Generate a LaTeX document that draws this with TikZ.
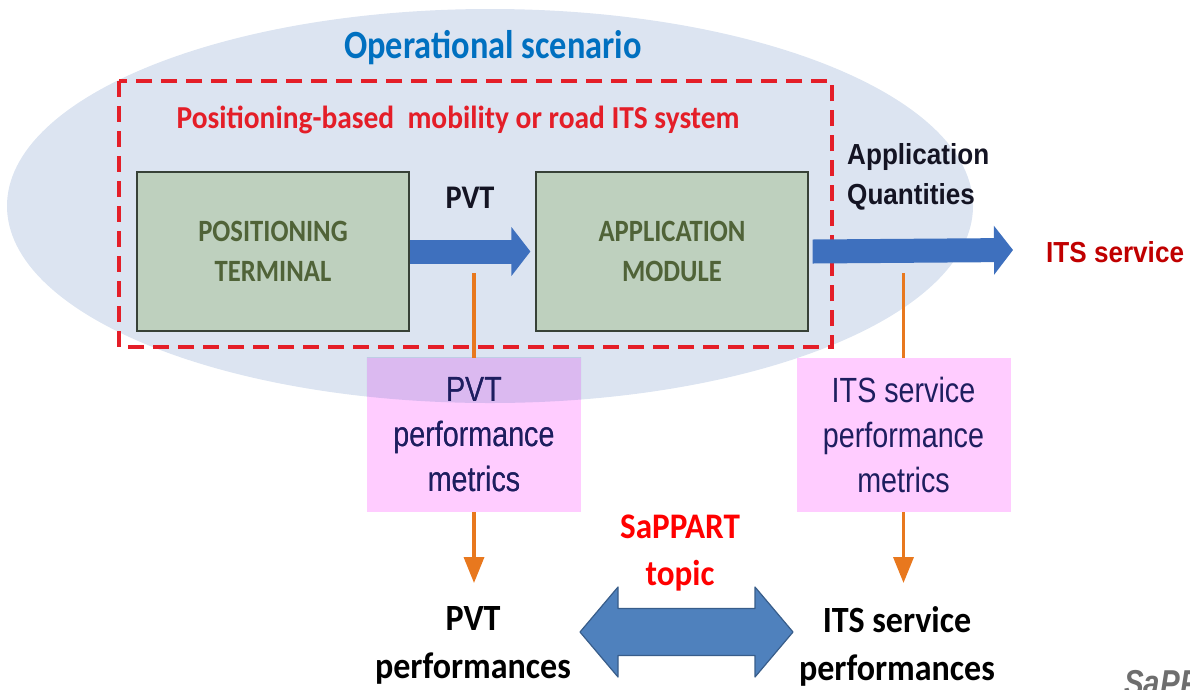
\documentclass[tikz,border=0pt]{standalone}
\usepackage{fontspec}
\usetikzlibrary{arrows.meta,calc}
\newfontfamily\calb[FakeStretch=0.86]{Carlito}
\newfontfamily\calw[FakeStretch=0.92]{Carlito}
\newfontfamily\arin[FakeStretch=0.82]{Liberation Sans}
\newfontfamily\ariw[FakeStretch=0.9]{Liberation Sans}
\definecolor{ellfill}{RGB}{220,228,241}
\definecolor{elltint}{RGB}{37,87,162}
\definecolor{dashred}{RGB}{228,30,40}
\definecolor{opblue}{RGB}{0,112,192}
\definecolor{boxgreen}{RGB}{190,208,190}
\definecolor{boxedge}{RGB}{55,65,55}
\definecolor{boxtext}{RGB}{80,99,56}
\definecolor{pinkbox}{RGB}{255,204,255}
\definecolor{navytext}{RGB}{30,30,95}
\definecolor{orangeln}{RGB}{232,120,30}
\definecolor{arrblue}{RGB}{62,112,190}
\definecolor{darkred}{RGB}{192,0,0}
\definecolor{brightred}{RGB}{255,0,0}
\definecolor{dblfill}{RGB}{79,129,189}
\definecolor{dbledge}{RGB}{56,93,138}
\definecolor{logogray}{RGB}{110,110,110}
\definecolor{nearblack}{RGB}{20,20,35}
\tikzset{
  gbox/.style={draw=boxedge, line width=1.2pt, fill=boxgreen, minimum width=272pt, minimum height=159pt,
    inner sep=0pt, align=center, text=boxtext, font=\calb\bfseries\fontsize{31}{40}\selectfont},
  pbox/.style={fill=pinkbox, minimum width=214pt, minimum height=154pt, inner sep=0pt, align=center,
    text=navytext, font=\arin\fontsize{35}{45}\selectfont},
  lbl/.style={inner sep=0pt, align=center},
  bluearrow/.style={draw=arrblue, line width=24pt, -{Triangle[length=19pt,width=48pt]}},
  orline/.style={draw=orangeln, line width=3.5pt},
  orarrow/.style={orline, -{Triangle[length=26pt,width=20pt]}},
  dblarrow/.style={fill=dblfill, draw=dbledge, line width=1.2pt, line join=round},
}
\begin{document}
\begin{tikzpicture}[x=1pt,y=-1pt]
\useasboundingbox (0,0) rectangle (1190,689);
% operational scenario ellipse
\fill[ellfill] (490,206) ellipse [x radius=483, y radius=197];
\node[lbl, text=opblue, font=\calb\bfseries\fontsize{40}{48}\selectfont] (optitle) at (493,48) {Operational scenario};
% system dashed frame
\draw[dashred, line width=3.5pt, dash pattern=on 16pt off 9pt] (119,81) rectangle (832,347);
\node[lbl, text=dashred, font=\calw\bfseries\fontsize{32}{38}\selectfont] (systitle) at (458,120) {Positioning-based\ \ mobility or road ITS system};
% boxes
\node[gbox] (term) at (273,251.5) {POSITIONING\\TERMINAL};
\node[gbox] (app) at (672,251.5) {APPLICATION\\MODULE};
% labels
\node[lbl, text=nearblack, font=\calw\bfseries\fontsize{33}{38}\selectfont] (pvtlbl) at (470,198) {PVT};
\node[lbl, anchor=west, align=left, text=nearblack, font=\ariw\bfseries\fontsize{29}{40}\selectfont] (aqlbl) at (847,177) {Application\\Quantities};
\node[lbl, anchor=west, text=darkred, font=\ariw\bfseries\fontsize{29}{34}\selectfont] (itsserv) at (1046,252) {ITS service};
% pink metric boxes
\node[pbox] (pvtm) at (474,435) {PVT\\performance\\metrics};
\node[pbox] (itsm) at (903.5,435) {ITS service\\performance\\metrics};
% ellipse tint over the pink box
\begin{scope}
  \clip (pvtm.north west) rectangle (pvtm.south east);
  \fill[elltint, fill opacity=0.16] (490,206) ellipse [x radius=483, y radius=197];
\end{scope}
\node[pbox, fill=none] at (pvtm.center) {PVT\\performance\\metrics};
% bottom labels
\node[lbl, anchor=north, text=black, font=\calw\bfseries\fontsize{37}{48}\selectfont] (pvtp) at (473,606) {PVT\\performances};
\node[lbl, anchor=north, text=black, font=\calw\bfseries\fontsize{37}{48}\selectfont] (itsp) at (897,606) {ITS service\\performances};
\node[lbl, text=brightred, font=\calw\bfseries\fontsize{36}{47}\selectfont] (topic) at (680,553) {SaPPART\\topic};
% flow arrows
\coordinate (aqend) at (1013,250);
\draw[bluearrow] (term.east) -- ([xshift=-5pt]app.west);
\draw[bluearrow] ([xshift=4pt]app.east) -- (aqend);
% orange connectors
\coordinate (o1) at (pvtm.north |- 0,273);
\coordinate (o2) at (itsm.north |- 0,273);
\draw[orline] (o1) -- (pvtm.north);
\draw[orline] (o2) -- (itsm.north);
\draw[orarrow, shorten >=23pt] (pvtm.south) -- (pvtm.south |- pvtp.north);
\draw[orarrow, shorten >=23pt] (itsm.south) -- (itsm.south |- itsp.north);
% double arrow between performances
\coordinate (dl) at (580,632);
\coordinate (dr) at (793,632);
\draw[dblarrow] (dl) -- ($(dl)+(38,-45)$) -- ($(dl)+(38,-23.5)$) -- ($(dr)+(-38,-23.5)$) -- ($(dr)+(-38,-45)$)
  -- (dr) -- ($(dr)+(-38,45)$) -- ($(dr)+(-38,23.5)$) -- ($(dl)+(38,23.5)$) -- ($(dl)+(38,45)$) -- cycle;
% cut-off logo
\node[lbl, anchor=north west, text=logogray, font=\arin\bfseries\itshape\fontsize{36}{40}\selectfont] (logo) at (1124,670) {SaPPART};
\end{tikzpicture}
\end{document}
